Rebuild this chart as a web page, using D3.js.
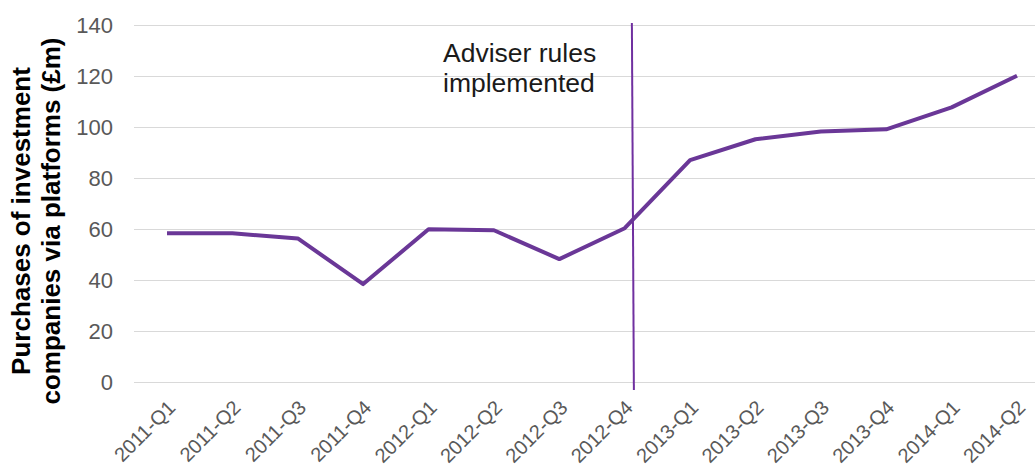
<!DOCTYPE html>
<html>
<head>
<meta charset="utf-8">
<script src="https://d3js.org/d3.v7.min.js"></script>
<style>
  body { margin: 0; background: #fff; }
  svg { font-family: "Liberation Sans", Arial, sans-serif; }
</style>
</head>
<body>
<div id="chart"></div>
<script>
// quarters on the x axis
var quarters = ["2011-Q1", "2011-Q2", "2011-Q3", "2011-Q4",
                "2012-Q1", "2012-Q2", "2012-Q3", "2012-Q4",
                "2013-Q1", "2013-Q2", "2013-Q3", "2013-Q4",
                "2014-Q1", "2014-Q2"];

// purchases of investment companies via platforms (£m)
var purchases = [58.3, 58.3, 56.3, 38.4, 59.9, 59.5, 48.2, 60.3,
                 87, 95.2, 98.2, 99.1, 107.7, 120.1];

var yTicks = [0, 20, 40, 60, 80, 100, 120, 140];

var eventQuarter = "2012-Q4";
var eventLabel = ["Adviser rules", "implemented"];
var yTitle = ["Purchases of investment", "companies via platforms (£m)"];

var width = 1035, height = 468;

var svg = d3.select("#chart")
  .append("svg")
  .attr("width", width)
  .attr("height", height);

var xScale = d3.scalePoint()
  .domain(quarters)
  .range([167, 1017])
  .padding(0);

var step = xScale.step();

var yScale = d3.scaleLinear()
  .domain([0, 140])
  .range([382, 25]);

// gridlines
svg.append("g")
  .selectAll("line")
  .data(yTicks)
  .enter()
  .append("line")
  .attr("x1", 134)
  .attr("x2", width)
  .attr("y1", function(d) { return yScale(d) + 0.5; })
  .attr("y2", function(d) { return yScale(d) + 0.5; })
  .attr("stroke", "#d9d9d9")
  .attr("stroke-width", 1);

// y axis labels
var yAxis = svg.append("g")
  .attr("transform", "translate(134,0)")
  .call(d3.axisLeft(yScale).tickValues(yTicks).tickSize(0).tickPadding(21));
yAxis.select(".domain").remove();
yAxis.selectAll("text")
  .attr("fill", "#595959")
  .style("font-size", "22px")
  .style("font-family", "Liberation Sans, Arial, sans-serif");

// x axis labels
var xAxis = svg.append("g")
  .attr("transform", "translate(0,382)")
  .call(d3.axisBottom(xScale).tickSize(0));
xAxis.select(".domain").remove();
xAxis.selectAll("text")
  .attr("fill", "#595959")
  .style("font-size", "20px")
  .style("font-family", "Liberation Sans, Arial, sans-serif")
  .attr("text-anchor", "end")
  .attr("dy", null)
  .attr("y", 0)
  .attr("transform", "translate(9,27) rotate(-45)");

// y axis title
var title = svg.append("text")
  .attr("transform", "translate(30,221) rotate(-90)")
  .attr("text-anchor", "middle")
  .attr("font-weight", "bold")
  .attr("font-size", "26px")
  .attr("fill", "#000");
title.selectAll("tspan")
  .data(yTitle)
  .enter()
  .append("tspan")
  .attr("x", 0)
  .attr("y", function(d, i) { return i * 30; })
  .text(function(d) { return d; });

// event marker
var eventX = xScale(eventQuarter) + step * 0.11;
svg.append("line")
  .attr("x1", eventX)
  .attr("x2", eventX + 2)
  .attr("y1", 23)
  .attr("y2", 390)
  .attr("stroke", "#7030a0")
  .attr("stroke-width", 2);

svg.append("g")
  .selectAll("text")
  .data(eventLabel)
  .enter()
  .append("text")
  .attr("x", 443)
  .attr("y", function(d, i) { return 62 + i * 30; })
  .attr("font-size", "26.5px")
  .attr("fill", "#1a1a1a")
  .text(function(d) { return d; });

// the line
var line = d3.line()
  .x(function(d, i) { return xScale(quarters[i]); })
  .y(function(d) { return yScale(d); });

svg.append("path")
  .datum(purchases)
  .attr("d", line)
  .attr("fill", "none")
  .attr("stroke", "#6a3797")
  .attr("stroke-width", 4)
  .attr("stroke-linejoin", "round");
</script>
</body>
</html>
